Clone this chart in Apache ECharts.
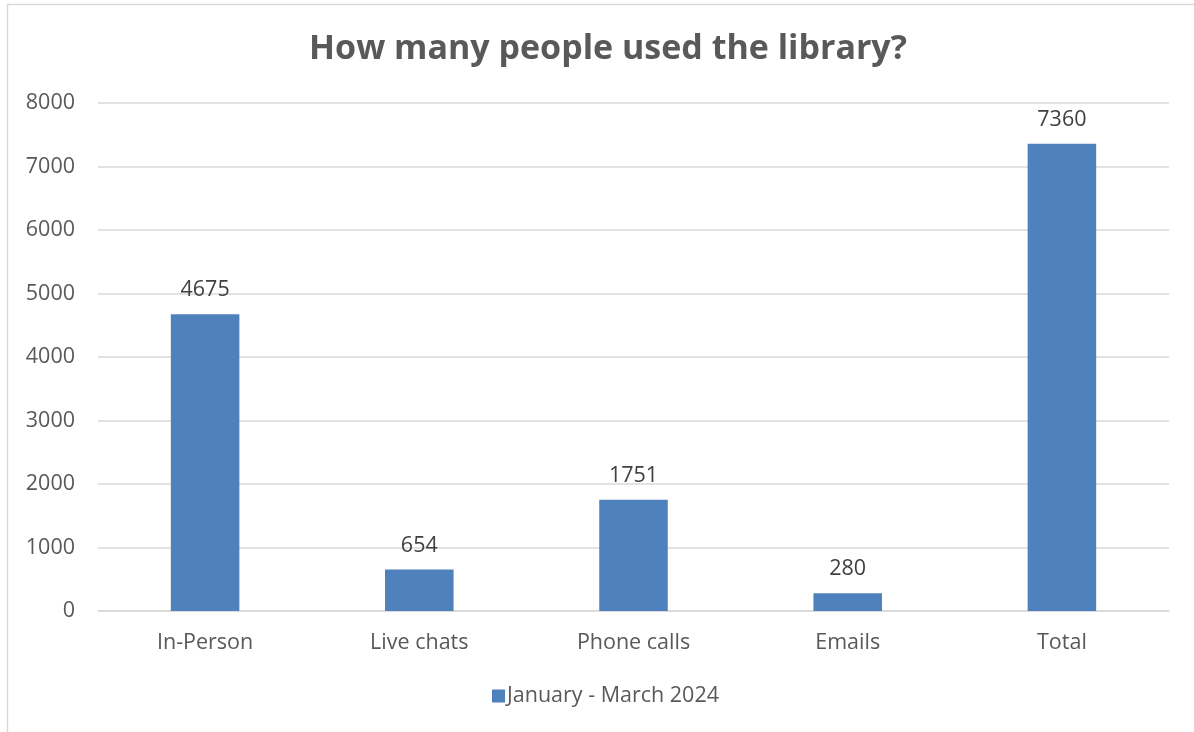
<!DOCTYPE html>
<html><head><meta charset="utf-8">
<script src="https://cdn.jsdelivr.net/npm/echarts@6/dist/echarts.min.js"></script>
<style>html,body{margin:0;padding:0;background:#fff}#c{width:1194px;height:732px}</style>
</head><body><div id="c"></div>
<script>
const categories = ['In-Person', 'Live chats', 'Phone calls', 'Emails', 'Total'];
const seriesName = 'January - March 2024';
const values = [4675, 654, 1751, 280, 7360];
const yTicks = {min: 0, max: 8000, interval: 1000};

const chart = echarts.init(document.getElementById('c'), null, {renderer: 'canvas'});
const font = '"Open Sans", "Liberation Sans", sans-serif';
chart.setOption({
  animation: false,
  graphic: [{type: 'rect', shape: {x: 7.5, y: 4.5, width: 1200, height: 740}, style: {fill: 'none', stroke: '#d9d9d9', lineWidth: 1.5}, silent: true}],
  title: {text: 'How many people used the library?', left: 603, textAlign: 'center', top: 27,
    textStyle: {fontFamily: font, fontSize: 34, fontWeight: 'bold', color: '#595959'}},
  grid: {left: 98, right: 25, top: 103, bottom: 121, containLabel: false},
  xAxis: {type: 'category', data: categories,
    axisLine: {lineStyle: {color: '#d9d9d9', width: 1.5}}, axisTick: {show: false},
    axisLabel: {fontFamily: font, fontSize: 21.5, color: '#595959', margin: 21}},
  yAxis: {type: 'value', min: yTicks.min, max: yTicks.max, interval: yTicks.interval,
    axisLine: {show: false}, axisTick: {show: false},
    splitLine: {lineStyle: {color: '#d9d9d9', width: 1.5}},
    axisLabel: {fontFamily: font, fontSize: 21.5, color: '#595959', margin: 23, formatter: v => String(v)}},
  legend: {data: [seriesName], bottom: 20, left: 487, itemWidth: 13, itemHeight: 13, itemGap: 4,
    icon: 'rect', textStyle: {fontFamily: font, fontSize: 21.5, color: '#595959', padding: [0,0,0,-3]}},
  series: [{name: seriesName, type: 'bar', data: values, barWidth: '32%',
    itemStyle: {color: '#4f81bd'},
    label: {show: true, position: 'top', distance: 13, fontFamily: font, fontSize: 21.5, color: '#404040'}}]
});
</script></body></html>
